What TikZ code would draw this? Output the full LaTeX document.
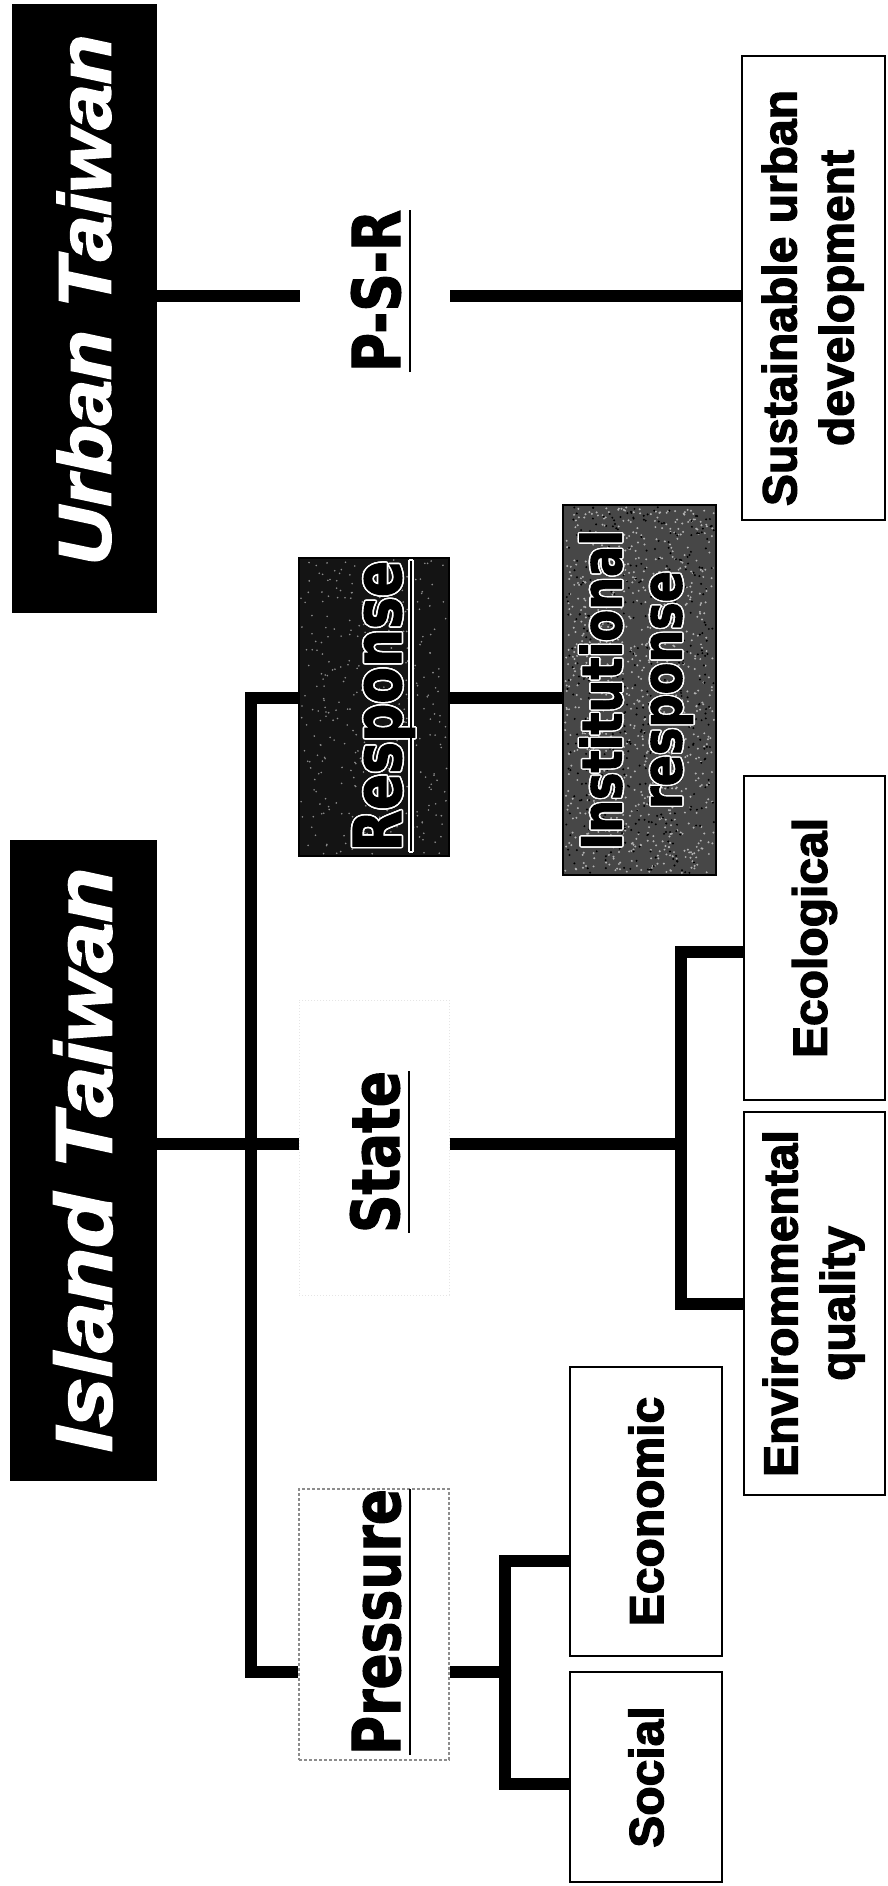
\documentclass[tikz,border=0pt]{standalone}
\usepackage{fontspec}
\setmainfont{Liberation Sans}
\newfontfamily\arb[FakeBold=2.6]{Liberation Sans Bold}
\newfontfamily\arbi[FakeBold=2.2]{Liberation Sans Bold Italic}
\newfontfamily\tahb[FakeBold=1.8]{DejaVu Sans Bold}
\usepackage{graphicx}
\usepackage{contour}
\contourlength{1.6pt}
\newsavebox\myulbox
\newcommand\myul[1]{\sbox\myulbox{#1}\rlap{\raisebox{-11.3pt}{\rule{\wd\myulbox}{2.6pt}}}\usebox\myulbox}
\begin{document}
\begin{tikzpicture}[x=1pt,y=-1pt,
  conn/.style={line width=12pt, line join=miter, line cap=butt},
  whitebox/.style={draw=black, line width=2pt, fill=white, inner sep=0pt},
  blackbox/.style={draw=black, fill=black, inner sep=0pt},
  arialtxt/.style={font=\arb\fontsize{48}{57}\selectfont},
  tahtxt/.style={font=\tahb\fontsize{66}{72}\selectfont},
  rtext/.style={rotate=90, anchor=base, inner sep=0pt},
]
\useasboundingbox (0,0) rectangle (887,1886);
\fill[white] (0,0) rectangle (887,1886);

% title boxes
\node[blackbox, minimum width=144pt, minimum height=608pt, font=\arbi\fontsize{74}{80}\selectfont, text=white] (urban) at (84,308) {\rotatebox{90}{\hspace*{16pt}\scalebox{1.1}[1]{Urban Taiwan}}};
\node[blackbox, minimum width=146pt, minimum height=640pt, font=\arbi\fontsize{80}{86}\selectfont, text=white] (island) at (83,1160) {\rotatebox{90}{\scalebox{1.12}[1]{Island Taiwan}}};

% P-S-R row
\node[rtext, tahtxt, text height=100pt, text depth=50pt] (psrT) at (400,291) {\scalebox{0.81}[1]{\myul{P-S-R}}};
\node[whitebox, arialtxt, minimum width=143pt, minimum height=464pt] (sust) at (813.5,288) {\rotatebox{90}{\hspace*{-20pt}\begin{tabular}{@{}c@{}}Sustainable urban\\development\end{tabular}}};

% Response
\node[blackbox, fill=black!92, line width=2pt, minimum width=150pt, minimum height=298pt] (resp) at (374,707) {};
\pgfmathsetseed{7}
\foreach \k in {1,...,350} \fill[black!45] ({301+rnd*146},{560+rnd*294}) circle (0.9pt);
\node[rtext, tahtxt, text=black] (respT) at (401,706) {\contour{white}{\scalebox{0.81}[1]{\myul{Response}}}};

% Institutional response
\node[blackbox, fill=black!72, line width=2pt, minimum width=153pt, minimum height=370pt] (inst) at (639.5,690) {};
\foreach \k in {1,...,900} \fill[black!30] ({565+rnd*149},{507+rnd*366}) circle (1.1pt);
\foreach \k in {1,...,500} \fill[black] ({565+rnd*149},{507+rnd*366}) circle (1.1pt);
\node[rotate=90, inner sep=0pt, font=\tahb\fontsize{55}{60}\selectfont, text=black] (instT) at (639.5,690) {\scalebox{0.84}[1]{\begin{tabular}{@{}c@{}}\contour{white}{Institutional}\\\contour{white}{response}\end{tabular}}};

% State
\node[draw=black!10, dotted, line width=1pt, minimum width=150pt, minimum height=295pt] (stateb) at (374,1147.5) {};
\node[rtext, tahtxt] (stateT) at (399,1152) {\scalebox{0.81}[1]{\myul{State}}};
\node[whitebox, arialtxt, minimum width=141pt, minimum height=324pt] (eco) at (814.5,938) {\rotatebox{90}{Ecological}};
\node[whitebox, arialtxt, minimum width=141pt, minimum height=383pt] (env) at (814.5,1303.5) {\rotatebox{90}{\begin{tabular}{@{}c@{}}Envirommental\\quality\end{tabular}}};

% Pressure
\node[draw=black!45, dash pattern=on 3pt off 2pt, line width=1.2pt, minimum width=150pt, minimum height=271pt] (presb) at (374,1624.5) {};
\node[rtext, tahtxt] (presT) at (400,1622) {\scalebox{0.81}[1]{\myul{Pressure}}};
\node[whitebox, arialtxt, minimum width=152pt, minimum height=289pt] (econ) at (646,1511.5) {\rotatebox{90}{Economic}};
\node[whitebox, arialtxt, minimum width=152pt, minimum height=210pt] (soc) at (646,1777) {\rotatebox{90}{Social}};

% connectors
\coordinate (yT) at (0,296);
\coordinate (yR) at (0,698);
\coordinate (yS) at (0,1144);
\coordinate (yP) at (0,1672);
\coordinate (mv) at (251,1144);
\coordinate (sbr) at (681,1144);
\coordinate (yE1) at (0,952);
\coordinate (yE2) at (0,1304);
\coordinate (pbr) at (505,1672);
\coordinate (yP1) at (0,1561);
\coordinate (yP2) at (0,1784);

\draw[conn] (urban.east |- yT) -- (psrT.north |- yT);
\draw[conn] (psrT.south |- yT) -- (sust.west |- yT);
\draw[conn] (resp.west |- yR) -| (mv) |- (presb.west |- yP);
\draw[conn] (island.east |- yS) -- (stateb.west |- yS);
\draw[conn] (resp.east |- yR) -- (inst.west |- yR);
\draw[conn] (stateb.east |- yS) -- (sbr);
\draw[conn] (eco.west |- yE1) -| (sbr) |- (env.west |- yE2);
\draw[conn] (presb.east |- yP) -- (pbr);
\draw[conn] (econ.west |- yP1) -| (pbr) |- (soc.west |- yP2);
\end{tikzpicture}
\end{document}
